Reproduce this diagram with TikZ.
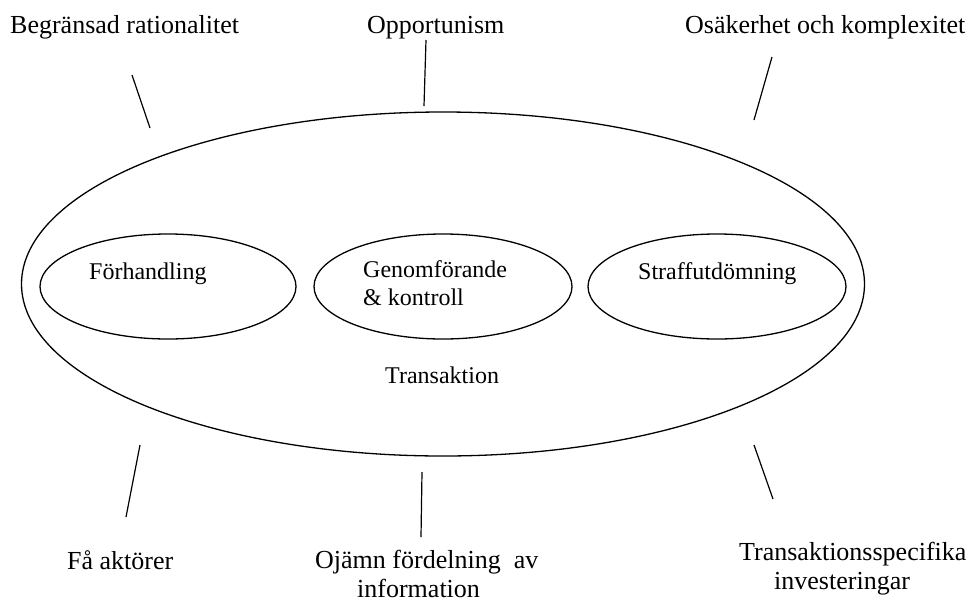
\documentclass[tikz,border=0pt]{standalone}
\usepackage{fontspec}
\setmainfont{Liberation Serif}
\usetikzlibrary{shapes.geometric}
\begin{document}
\begin{tikzpicture}[x=1pt,y=-1pt,
  oval/.style={draw, ellipse, line width=1.3pt, inner sep=0pt},
  big/.style={font=\fontsize{26}{29}\selectfont, inner sep=0pt, anchor=base west, align=left},
  small/.style={font=\fontsize{24}{28}\selectfont, inner sep=0pt, anchor=base west, align=left},
  tick/.style={line width=1.2pt}]
\useasboundingbox (0,0) rectangle (975,606);
% ellipses
\node[oval, minimum width=843pt, minimum height=344pt] (trans) at (443,284) {};
\node[oval, minimum width=256pt, minimum height=105pt] (forh) at (168,286.5) {};
\node[oval, minimum width=258pt, minimum height=105pt] (genom) at (443,286.5) {};
\node[oval, minimum width=258pt, minimum height=105pt] (straff) at (717,286.5) {};
% inner texts (base = baseline of the last line)
\node[small] (tforh) at (89,279) {Förhandling};
\node[small] (tgenom) at (363,305) {Genomförande\\\& kontroll};
\node[small] (tstraff) at (638,279) {Straffutdömning};
\node[small] (ttrans) at (385,383) {Transaktion};
% outer labels
\node[big] (begr) at (10,33) {Begränsad rationalitet};
\node[big] (opp) at (367,33) {Opportunism};
\node[big] (osak) at (685,33) {Osäkerhet och komplexitet};
\node[big] (fa) at (67,569) {Få aktörer};
\node[big] (ojamn) at (315,597) {Ojämn fördelning\ \ av\\\hspace*{42pt}information};
\node[big] (tsp) at (739,589) {Transaktionsspecifika\\\hspace*{35pt}investeringar};
% connector ticks
\coordinate (a1) at (132,75);  \coordinate (a2) at (150,128);
\coordinate (b1) at (426,40);  \coordinate (b2) at (424,106);
\coordinate (c1) at (772,57);  \coordinate (c2) at (754,120);
\coordinate (d1) at (140,445); \coordinate (d2) at (126,517);
\coordinate (e1) at (422,472); \coordinate (e2) at (421,537);
\coordinate (f1) at (754,445); \coordinate (f2) at (773,499);
\draw[tick] (a1) -- (a2);
\draw[tick] (b1) -- (b2);
\draw[tick] (c1) -- (c2);
\draw[tick] (d1) -- (d2);
\draw[tick] (e1) -- (e2);
\draw[tick] (f1) -- (f2);
\end{tikzpicture}
\end{document}
